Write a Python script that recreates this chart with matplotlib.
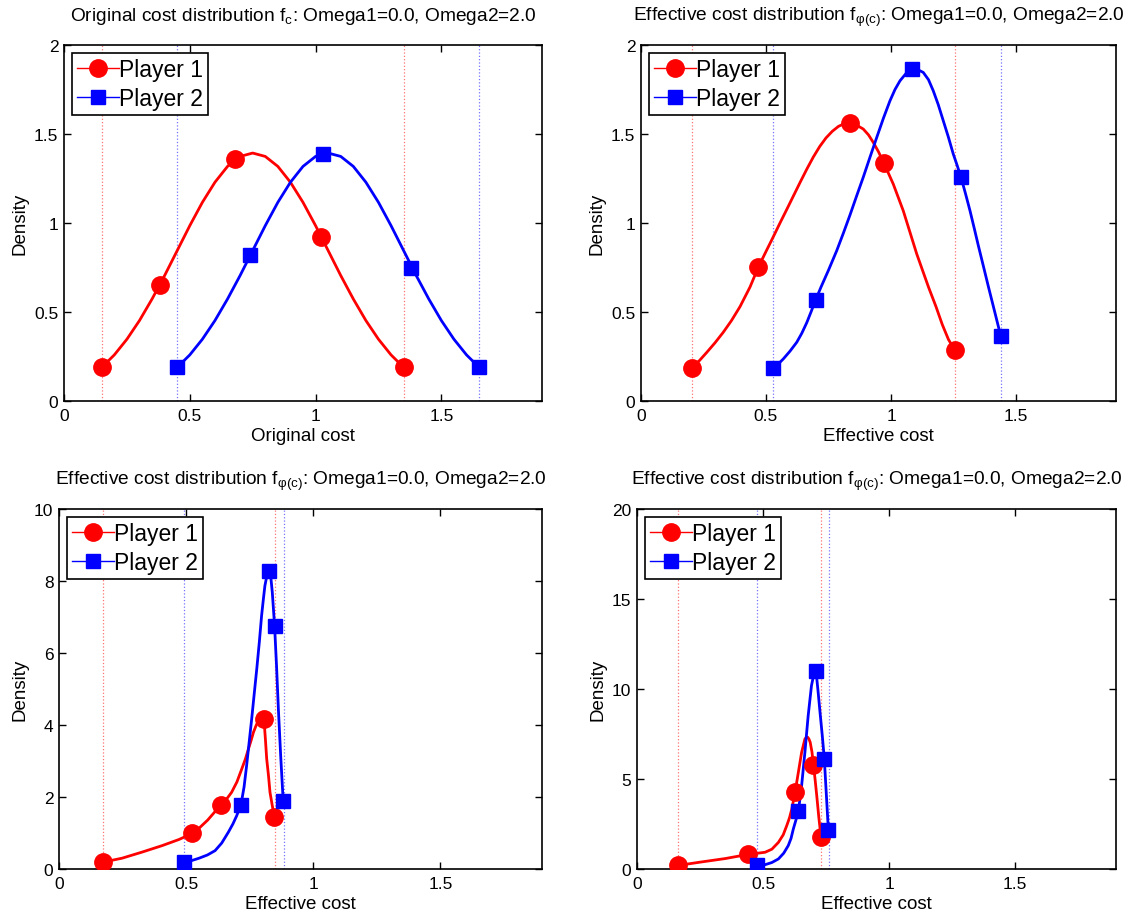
import matplotlib
matplotlib.use("Agg")
import matplotlib.pyplot as plt
from matplotlib.lines import Line2D

plt.rcParams['font.family'] = ['Liberation Sans', 'DejaVu Sans']
plt.rcParams['mathtext.default'] = 'regular'

# ---------------- data ----------------
titles = [
    "Original cost distribution $f_{c}$: Omega1=0.0, Omega2=2.0",
    "Effective cost distribution $f_{φ(c)}$: Omega1=0.0, Omega2=2.0",
    "Effective cost distribution $f_{φ(c)}$: Omega1=0.0, Omega2=2.0",
    "Effective cost distribution $f_{φ(c)}$: Omega1=0.0, Omega2=2.0",
]
xlabels = ["Original cost", "Effective cost", "Effective cost", "Effective cost"]
ylabel = "Density"
legend_labels = ["Player 1", "Player 2"]
xticks = [0, 0.5, 1, 1.5]
xticklabels = ["0", "0.5", "1", "1.5"]
ylims = [2, 2, 10, 20]
yticks_list = [[0, 0.5, 1, 1.5, 2], [0, 0.5, 1, 1.5, 2], [0, 2, 4, 6, 8, 10], [0, 5, 10, 15, 20]]
yticklabels_list = [["0", "0.5", "1", "1.5", "2"], ["0", "0.5", "1", "1.5", "2"],
                    ["0", "2", "4", "6", "8", "10"], ["0", "5", "10", "15", "20"]]

# Panel 1: original cost
p1_red_curve_x = [0.15, 0.20, 0.25, 0.30, 0.35, 0.40, 0.45, 0.50, 0.55, 0.60, 0.65, 0.70, 0.75,
                  0.80, 0.85, 0.90, 0.95, 1.00, 1.05, 1.10, 1.15, 1.20, 1.25, 1.30, 1.35]
p1_red_curve_y = [0.189, 0.259, 0.347, 0.452, 0.573, 0.705, 0.845, 0.985, 1.116, 1.229, 1.318, 1.374, 1.393,
                  1.374, 1.318, 1.229, 1.116, 0.985, 0.845, 0.705, 0.573, 0.452, 0.347, 0.259, 0.189]
p1_blue_curve_x = [0.45, 0.50, 0.55, 0.60, 0.65, 0.70, 0.75, 0.80, 0.85, 0.90, 0.95, 1.00, 1.05,
                   1.10, 1.15, 1.20, 1.25, 1.30, 1.35, 1.40, 1.45, 1.50, 1.55, 1.60, 1.65]
p1_blue_curve_y = [0.189, 0.259, 0.347, 0.452, 0.573, 0.705, 0.845, 0.985, 1.116, 1.229, 1.318, 1.374, 1.393,
                   1.374, 1.318, 1.229, 1.116, 0.985, 0.845, 0.705, 0.573, 0.452, 0.347, 0.259, 0.189]
p1_red_x = [0.15, 0.38, 0.68, 1.02, 1.35]
p1_red_y = [0.19, 0.65, 1.36, 0.92, 0.19]
p1_blue_x = [0.45, 0.74, 1.03, 1.38, 1.65]
p1_blue_y = [0.19, 0.82, 1.39, 0.75, 0.19]
p1_red_bounds = [0.15, 1.35]
p1_blue_bounds = [0.45, 1.65]

# Panel 2
p2_red_curve_x = [0.203, 0.233, 0.263, 0.296, 0.329, 0.362, 0.396, 0.436, 0.469, 0.500, 0.529, 0.556,
                  0.583, 0.610, 0.636, 0.663, 0.689, 0.715, 0.740, 0.765, 0.790, 0.815, 0.836,
                  0.862, 0.889, 0.910, 0.929, 0.950, 0.972, 1.009, 1.049, 1.103, 1.150, 1.180,
                  1.205, 1.230, 1.255]
p2_red_curve_y = [0.185, 0.226, 0.273, 0.327, 0.386, 0.452, 0.530, 0.640, 0.751, 0.840, 0.922, 1.000,
                  1.076, 1.153, 1.227, 1.302, 1.370, 1.430, 1.478, 1.515, 1.543, 1.559, 1.563,
                  1.550, 1.528, 1.495, 1.453, 1.400, 1.335, 1.219, 1.069, 0.826, 0.640, 0.530,
                  0.430, 0.345, 0.287]
p2_blue_curve_x = [0.529, 0.549, 0.569, 0.596, 0.623, 0.643, 0.663, 0.680, 0.698, 0.720, 0.750, 0.783,
                   0.810, 0.836, 0.862, 0.889, 0.916, 0.943, 0.970, 0.996, 1.016, 1.036, 1.060,
                   1.083, 1.106, 1.129, 1.150, 1.169, 1.189, 1.209, 1.229, 1.249, 1.265, 1.280,
                   1.298, 1.316, 1.333, 1.349, 1.370, 1.390, 1.415, 1.439]
p2_blue_curve_y = [0.185, 0.208, 0.236, 0.280, 0.330, 0.380, 0.440, 0.500, 0.566, 0.640, 0.735, 0.845,
                   0.945, 1.045, 1.150, 1.257, 1.370, 1.481, 1.590, 1.687, 1.750, 1.799, 1.840,
                   1.865, 1.862, 1.846, 1.805, 1.743, 1.665, 1.575, 1.485, 1.388, 1.322, 1.257,
                   1.165, 1.069, 0.970, 0.875, 0.755, 0.640, 0.500, 0.365]
p2_red_x = [0.203, 0.469, 0.836, 0.972, 1.255]
p2_red_y = [0.185, 0.751, 1.563, 1.335, 0.287]
p2_blue_x = [0.529, 0.698, 1.083, 1.280, 1.439]
p2_blue_y = [0.185, 0.566, 1.865, 1.257, 0.365]
p2_red_bounds = [0.203, 1.255]
p2_blue_bounds = [0.529, 1.439]

# Panel 3
p3_red_curve_x = [0.173, 0.248, 0.327, 0.406, 0.472, 0.525, 0.555, 0.585, 0.612, 0.637, 0.660, 0.679,
                  0.700, 0.719, 0.733, 0.745, 0.756, 0.765, 0.775, 0.784, 0.795, 0.806, 0.812,
                  0.817, 0.824, 0.830, 0.838, 0.847]
p3_red_curve_y = [0.19, 0.30, 0.47, 0.65, 0.82, 0.99, 1.16, 1.36, 1.58, 1.78, 1.95, 2.13,
                  2.42, 2.78, 3.05, 3.33, 3.58, 3.80, 3.98, 4.12, 4.18, 4.18, 3.60,
                  3.06, 2.60, 2.13, 1.80, 1.45]
p3_blue_curve_x = [0.490, 0.520, 0.551, 0.584, 0.614, 0.640, 0.666, 0.684, 0.699, 0.716, 0.728, 0.738,
                   0.748, 0.758, 0.768, 0.778, 0.788, 0.797, 0.804, 0.810, 0.817, 0.827,
                   0.834, 0.839, 0.848, 0.856, 0.863, 0.872, 0.882]
p3_blue_curve_y = [0.19, 0.23, 0.30, 0.39, 0.51, 0.72, 1.02, 1.25, 1.48, 1.79, 2.28, 2.87,
                   3.52, 4.17, 4.87, 5.56, 6.30, 7.04, 7.50, 7.87, 8.12, 8.27,
                   8.05, 7.69, 6.76, 5.60, 4.44, 3.15, 1.88]
p3_red_x = [0.173, 0.525, 0.637, 0.805, 0.847]
p3_red_y = [0.19, 0.99, 1.78, 4.18, 1.45]
p3_blue_x = [0.490, 0.716, 0.827, 0.848, 0.882]
p3_blue_y = [0.19, 1.79, 8.27, 6.76, 1.88]
p3_red_bounds = [0.173, 0.848]
p3_blue_bounds = [0.490, 0.884]

# Panel 4
p4_red_curve_x = [0.164, 0.250, 0.350, 0.442, 0.475, 0.508, 0.535, 0.561, 0.580, 0.594, 0.605, 0.614,
                  0.627, 0.640, 0.653, 0.666, 0.672, 0.677, 0.682, 0.687, 0.694, 0.700, 0.707,
                  0.713, 0.721, 0.730]
p4_red_curve_y = [0.20, 0.38, 0.58, 0.815, 0.87, 0.93, 1.10, 1.48, 1.90, 2.41, 2.85, 3.33,
                  4.26, 5.37, 6.48, 7.22, 7.32, 7.32, 7.22, 7.04, 6.50, 5.78, 4.90,
                  4.07, 2.90, 1.76]
p4_blue_curve_x = [0.477, 0.508, 0.535, 0.561, 0.582, 0.600, 0.611, 0.620, 0.630, 0.640, 0.653, 0.666,
                   0.679, 0.692, 0.701, 0.710, 0.718, 0.726, 0.735, 0.743, 0.751, 0.759]
p4_blue_curve_y = [0.20, 0.24, 0.36, 0.56, 0.88, 1.30, 1.70, 2.22, 2.70, 3.20, 4.63, 6.48,
                   8.52, 10.18, 10.80, 11.02, 9.90, 8.70, 7.40, 6.11, 4.15, 2.18]
p4_red_x = [0.164, 0.442, 0.627, 0.700, 0.730]
p4_red_y = [0.20, 0.815, 4.26, 5.78, 1.76]
p4_blue_x = [0.477, 0.640, 0.710, 0.743, 0.759]
p4_blue_y = [0.20, 3.20, 11.02, 6.11, 2.18]
p4_red_bounds = [0.164, 0.730]
p4_blue_bounds = [0.477, 0.761]

panels = [
    (p1_red_curve_x, p1_red_curve_y, p1_blue_curve_x, p1_blue_curve_y, p1_red_x, p1_red_y,
     p1_blue_x, p1_blue_y, p1_red_bounds, p1_blue_bounds),
    (p2_red_curve_x, p2_red_curve_y, p2_blue_curve_x, p2_blue_curve_y, p2_red_x, p2_red_y,
     p2_blue_x, p2_blue_y, p2_red_bounds, p2_blue_bounds),
    (p3_red_curve_x, p3_red_curve_y, p3_blue_curve_x, p3_blue_curve_y, p3_red_x, p3_red_y,
     p3_blue_x, p3_blue_y, p3_red_bounds, p3_blue_bounds),
    (p4_red_curve_x, p4_red_curve_y, p4_blue_curve_x, p4_blue_curve_y, p4_red_x, p4_red_y,
     p4_blue_x, p4_blue_y, p4_red_bounds, p4_blue_bounds),
]

# ---------------- layout ----------------
W, H = 1128, 920
fig = plt.figure(figsize=(W / 100, H / 100), dpi=100)
# (left, top, right, bottom) in pixels
boxes = [(64, 46, 542, 402), (641, 46, 1116, 402), (59, 510, 542, 870), (637, 510, 1116, 870)]

RED = (1, 0, 0)
BLUE = (0, 0, 1)

for i, (box, data) in enumerate(zip(boxes, panels)):
    l, t, r, b = box
    ax = fig.add_axes([l / W, 1 - b / H, (r - l) / W, (b - t) / H])
    (rcx, rcy, bcx, bcy, rx, ry, bx, by, rb, bb) = data
    for v in rb:
        ax.axvline(v, color=RED, ls=':', lw=0.9, alpha=0.55, zorder=1)
    for v in bb:
        ax.axvline(v, color=BLUE, ls=':', lw=0.9, alpha=0.55, zorder=1)
    ax.plot(rcx, rcy, color=RED, lw=2.0, zorder=2, solid_joinstyle='round')
    ax.plot(bcx, bcy, color=BLUE, lw=2.0, zorder=2, solid_joinstyle='round')
    ax.plot(rx, ry, ls='none', marker='o', ms=12.5, color=RED, mec=RED, zorder=3)
    ax.plot(bx, by, ls='none', marker='s', ms=10.5, color=BLUE, mec=BLUE, zorder=3)

    ax.set_xlim(0, 1.9)
    ax.set_ylim(0, ylims[i])
    ax.set_xticks(xticks)
    ax.set_xticklabels(xticklabels)
    ax.set_yticks(yticks_list[i])
    ax.set_yticklabels(yticklabels_list[i])
    ax.tick_params(direction='in', top=True, right=True, length=5, width=1,
                   labelsize=12.5)
    ax.tick_params(axis='x', pad=5)
    ax.tick_params(axis='y', pad=4)
    for s in ax.spines.values():
        s.set_linewidth(1.2)
    ax.set_xlabel(xlabels[i], fontsize=13.5, labelpad=3)
    ax.set_ylabel(ylabel, fontsize=13.5, labelpad=4)
    ax.set_title(titles[i], fontsize=13.8, pad=18)

    handles = [
        Line2D([], [], color=RED, lw=1.0, marker='o', ms=12.5, mec=RED),
        Line2D([], [], color=BLUE, lw=1.0, marker='s', ms=10.5, mec=BLUE),
    ]
    leg = ax.legend(handles, legend_labels, loc='upper left', fontsize=16.5,
                    frameon=True, fancybox=False, framealpha=1, edgecolor='black',
                    borderpad=0.2, labelspacing=0.3, handlelength=1.85,
                    handletextpad=0.0, borderaxespad=0.35)
    leg.get_frame().set_linewidth(1.2)

fig.savefig("out.png", dpi=100)
